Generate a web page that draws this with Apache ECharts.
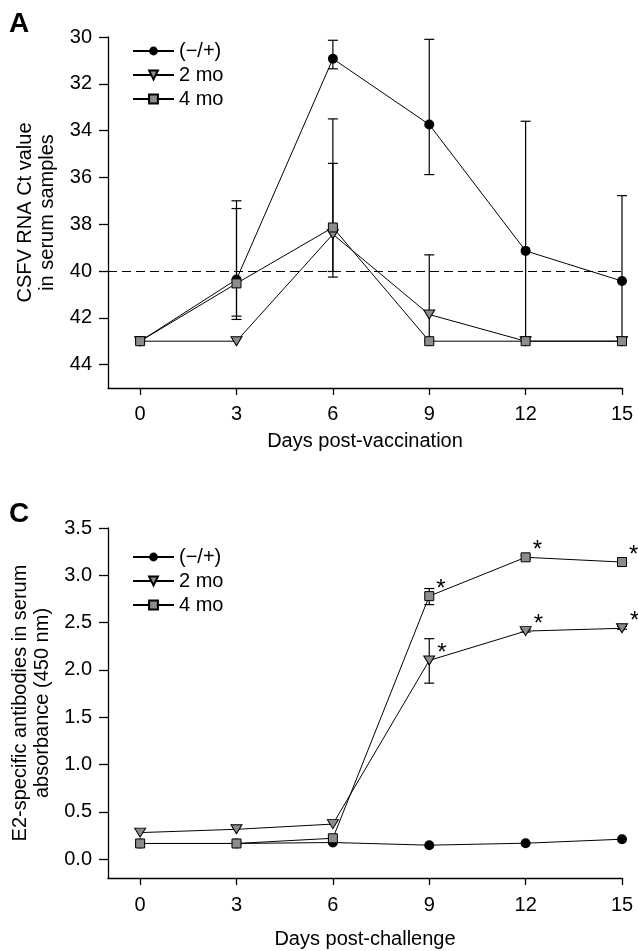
<!DOCTYPE html>
<html><head><meta charset="utf-8">
<script src="https://cdn.jsdelivr.net/npm/echarts@6/dist/echarts.min.js"></script>
<style>html,body{margin:0;padding:0;background:#fff}#c{width:638px;height:951px}</style>
</head><body><div id="c"></div>
<script>
// ---- data ----
const days = [0, 3, 6, 9, 12, 15];
const dayTicks = [0, 3, 6, 9, 12, 15];
const ctTicks = [30, 32, 34, 36, 38, 40, 42, 44];
const absTicks = [0, 0.5, 1, 1.5, 2, 2.5, 3, 3.5];
const seriesNames = ['(−/+)', '2 mo', '4 mo'];

const ctNeg = [43.0, 40.36, 30.93, 33.74, 39.14, 40.43];
const ct2mo = [43.0, 43.0, 38.43, 41.86, 43.0, 43.0];
const ct4mo = [43.0, 40.53, 38.14, 43.0, 43.0, 43.0];
const ctNegErr = [[3, 37.33, 42.07], [6, 30.14, 31.36], [9, 30.1, 35.88], [12, 33.6, 43.0], [15, 36.78, 43.0]];
const ct2moErr = [[6, 35.4, 40.02], [9, 39.31, 43.0]];
const ct4moErr = [[3, 37.0, 41.93], [6, 33.5, 40.26]];
const ctCutoff = 40;

const absNeg = [0.165, 0.165, 0.175, 0.147, 0.168, 0.21];
const abs2mo = [0.28, 0.315, 0.37, 2.10, 2.41, 2.44];
const abs4mo = [0.165, 0.165, 0.22, 2.78, 3.19, 3.14];
const abs2moErr = [[9, 1.86, 2.33], [12, 2.40, 2.43], [15, 2.43, 2.46]];
const abs4moErr = [[9, 2.69, 2.86], [12, 3.17, 3.21], [15, 3.10, 3.17]];
const starDays = [9, 12, 15];

// ---- styles ----
const FONT = 'Liberation Sans, Arial, sans-serif';
const GRAY = '#8c8c8c';
const marker = [
  {symbol: 'circle', symbolSize: 10, itemStyle: {color: '#000', borderColor: '#000', borderWidth: 0}},
  {symbol: 'triangle', symbolSize: [11, 9], symbolRotate: 180, itemStyle: {color: GRAY, borderColor: '#000', borderWidth: 1}},
  {symbol: 'rect', symbolSize: 9, itemStyle: {color: GRAY, borderColor: '#000', borderWidth: 1}}
];

function errItem(params, api) {
  const x = api.value(0), lo = api.value(1), hi = api.value(2);
  const p1 = api.coord([x, lo]), p2 = api.coord([x, hi]);
  const w = 5, st = {stroke: '#000', lineWidth: 1.2};
  return {type: 'group', children: [
    {type: 'line', shape: {x1: p1[0], y1: p1[1], x2: p2[0], y2: p2[1]}, style: st},
    {type: 'line', shape: {x1: p1[0] - w, y1: p1[1], x2: p1[0] + w, y2: p1[1]}, style: st},
    {type: 'line', shape: {x1: p2[0] - w, y1: p2[1], x2: p2[0] + w, y2: p2[1]}, style: st}
  ]};
}

function lineSeries(idx, gi, vals, withStars) {
  const m = marker[idx];
  return {
    type: 'line', name: seriesNames[idx], xAxisIndex: gi, yAxisIndex: gi,
    symbol: m.symbol, symbolSize: m.symbolSize, symbolRotate: m.symbolRotate || 0,
    showAllSymbol: true, z: 5,
    itemStyle: m.itemStyle,
    lineStyle: {color: '#000', width: 1},
    emphasis: {disabled: true},
    data: days.map((d, i) => {
      const item = {value: [d, vals[i]]};
      if (withStars && starDays.indexOf(d) >= 0) {
        item.label = {show: true, formatter: '*', position: 'right', distance: 2, offset: [0, -7],
          fontSize: 24, fontFamily: FONT, color: '#000'};
      }
      return item;
    })
  };
}
function errSeries(gi, data) {
  return {type: 'custom', name: 'err', xAxisIndex: gi, yAxisIndex: gi, z: 3, silent: true,
    renderItem: errItem, encode: {x: 0, y: [1, 2]}, data: data};
}

const axisCommon = {
  axisLine: {show: true, onZero: false, lineStyle: {color: '#000', width: 1.3}},
  axisTick: {show: true, length: 7, lineStyle: {color: '#000', width: 1.3}},
  splitLine: {show: false},
  axisLabel: {color: '#000', fontSize: 20, fontFamily: FONT},
  nameTextStyle: {color: '#000', fontSize: 20, fontFamily: FONT, lineHeight: 22}
};
function xAx(gi, name, gap, margin) {
  return Object.assign({}, axisCommon, {
    type: 'value', gridIndex: gi, min: -1, max: 15,
    axisTick: Object.assign({}, axisCommon.axisTick, {customValues: dayTicks}),
    axisLabel: Object.assign({}, axisCommon.axisLabel, {customValues: dayTicks, margin: margin}),
    name: name, nameLocation: 'middle', nameGap: gap
  });
}
function yAx(gi, min, max, ticks, inverse, name, gap, fmt) {
  return Object.assign({}, axisCommon, {
    type: 'value', gridIndex: gi, min: min, max: max, inverse: inverse,
    axisTick: Object.assign({}, axisCommon.axisTick, {customValues: ticks, length: 9}),
    axisLabel: Object.assign({}, axisCommon.axisLabel, {customValues: ticks, margin: 16, formatter: fmt}),
    name: name, nameLocation: 'middle', nameRotate: 90, nameGap: gap
  });
}

const legendCommon = {
  orient: 'vertical', left: 127, itemWidth: 41, itemHeight: 11, itemGap: 4, itemTextGap: 12,
  textStyle: {color: '#000', fontSize: 20, fontFamily: FONT, lineHeight: 20},
  data: seriesNames, selectedMode: false
};

const chart = echarts.init(document.getElementById('c'), null, {renderer: 'canvas'});
const ctSeries0 = lineSeries(0, 0, ctNeg, false);
ctSeries0.markLine = {symbol: 'none', silent: true, label: {show: false},
  lineStyle: {type: [9, 5], color: '#000', width: 1.2}, emphasis: {disabled: true},
  data: [{yAxis: ctCutoff}]};

chart.setOption({
  animation: false,
  backgroundColor: '#fff',
  graphic: [
    {type: 'text', left: 9, top: 10, style: {text: 'A', font: 'bold 28px Liberation Sans, Arial', fill: '#000'}},
    {type: 'text', left: 9, top: 500, style: {text: 'C', font: 'bold 28px Liberation Sans, Arial', fill: '#000'}}
  ],
  legend: [
    Object.assign({}, legendCommon, {top: 36}),
    Object.assign({}, legendCommon, {top: 542})
  ],
  grid: [
    {left: 108, top: 37, width: 514, height: 351},
    {left: 108, top: 528, width: 514, height: 351}
  ],
  xAxis: [xAx(0, 'Days post-vaccination', 42, 16), xAx(1, 'Days post-challenge', 50, 17)],
  yAxis: [
    yAx(0, 30, 45, ctTicks, true, 'CSFV RNA Ct value\nin serum samples', 50, v => String(v)),
    yAx(1, -0.2, 3.5, absTicks, false, 'E2-specific antibodies in serum\nabsorbance (450 nm)', 53, v => v.toFixed(1))
  ],
  series: [
    errSeries(0, ctNegErr), errSeries(0, ct2moErr), errSeries(0, ct4moErr),
    ctSeries0, lineSeries(1, 0, ct2mo, false), lineSeries(2, 0, ct4mo, false),
    errSeries(1, abs2moErr), errSeries(1, abs4moErr),
    lineSeries(0, 1, absNeg, false), lineSeries(1, 1, abs2mo, true), lineSeries(2, 1, abs4mo, true)
  ]
});
</script></body></html>
